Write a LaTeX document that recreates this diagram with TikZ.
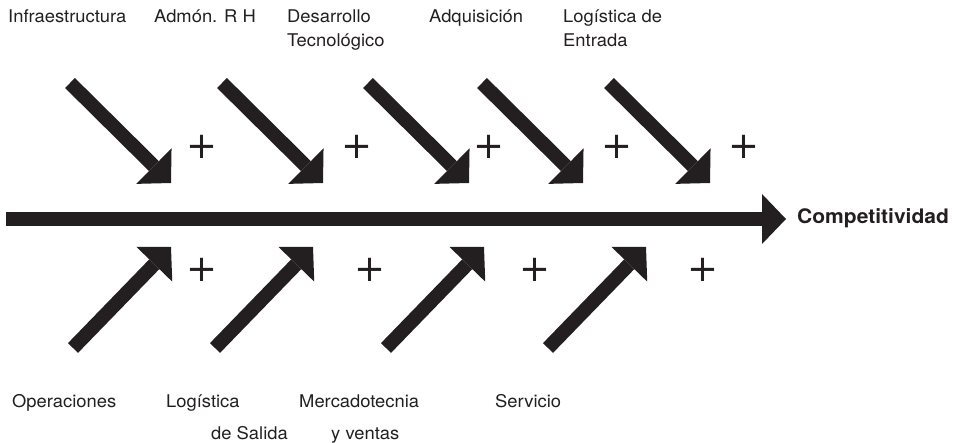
\documentclass[tikz,border=0pt]{standalone}
\usepackage{fontspec}
\setmainfont{TeX Gyre Heros}[FakeStretch=1.05]
\newfontfamily\signofont{DejaVu Sans}
\usetikzlibrary{arrows.meta}
\definecolor{negro}{RGB}{35,31,32}
\tikzset{
  flecha/.style={line width=14pt, draw=negro, -{Triangle[length=24pt,width=50pt,line width=0pt]}},
  etiqueta/.style={anchor=base west, inner sep=0pt, align=left, text=negro, font=\fontsize{17.5}{24}\selectfont},
  suma/.style={inner sep=0pt, text=negro, font=\signofont\fontsize{37}{37}\selectfont},
}
\begin{document}
\begin{tikzpicture}[x=1pt,y=-1pt]
    \useasboundingbox (0,0) rectangle (957,443);
    % eje principal
    \draw [flecha] (6,219) -- (786,219);
    \node (comp) at (797,224) [etiqueta, font=\bfseries\fontsize{20}{24}\selectfont] {Competitividad};

    % actividades de apoyo (base = ultima linea)
    \node (infra) at (8,23) [etiqueta] {Infraestructura};
    \node (rh) at (154,23) [etiqueta] {Admón. R H};
    \node (tec) at (287,47) [etiqueta] {Desarrollo\\Tecnológico};
    \node (adq) at (429,23) [etiqueta] {Adquisición};
    \node (logent) at (563,47) [etiqueta] {Logística de\\Entrada};
    \draw [flecha] (70,83) -- (171,183);
    \draw [flecha] (222,83) -- (323,183);
    \draw [flecha] (368,83) -- (469,183);
    \draw [flecha] (482,83) -- (583,183);
    \draw [flecha] (609,83) -- (710,183);
    \node (s1) at (202,147) [suma] {+};
    \node (s2) at (357,147) [suma] {+};
    \node (s3) at (489,147) [suma] {+};
    \node (s4) at (617,147) [suma] {+};
    \node (s5) at (744,147) [suma] {+};

    % actividades primarias
    \draw [flecha] (73,348) -- (171,247);
    \draw [flecha] (215,348) -- (313,247);
    \draw [flecha] (386,348) -- (484,247);
    \draw [flecha] (548,348) -- (646,247);
    \node (s6) at (202,270) [suma] {+};
    \node (s7) at (370,270) [suma] {+};
    \node (s8) at (535,270) [suma] {+};
    \node (s9) at (703,270) [suma] {+};
    \node (oper) at (12,407) [etiqueta] {Operaciones};
    \node (logsal) at (166,439) [etiqueta] {Logística\\[8pt]\hspace*{45pt}de Salida};
    \node (merc) at (299,439) [etiqueta] {Mercadotecnia\\[8pt]\hspace*{32pt}y ventas};
    \node (serv) at (495,407) [etiqueta] {Servicio};
\end{tikzpicture}
\end{document}
